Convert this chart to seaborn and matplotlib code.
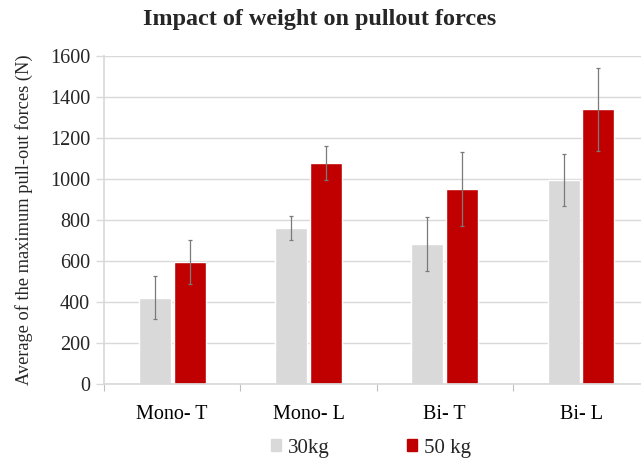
import matplotlib
matplotlib.use("Agg")
import matplotlib.pyplot as plt
import seaborn as sns
import pandas as pd
import numpy as np

categories = ["Mono- T", "Mono- L", "Bi- T", "Bi- L"]
groups = ["30kg", "50 kg"]
values_30 = [420, 761, 683, 995]
values_50 = [595, 1078, 953, 1341]
err_30 = [105, 57, 130, 127]
err_50 = [107, 83, 180, 202]
yticks = [0, 200, 400, 600, 800, 1000, 1200, 1400, 1600]

df = pd.DataFrame({
    "cat": categories * 2,
    "grp": [groups[0]] * 4 + [groups[1]] * 4,
    "val": values_30 + values_50,
    "err": err_30 + err_50,
})

sns.set_theme(style="white")
plt.rcParams["font.family"] = ["Liberation Serif", "DejaVu Serif"]

fig = plt.figure(figsize=(6.41, 4.59), dpi=100)
ax_w = 4 * 136.3
ax = fig.add_axes([104 / 641, 1 - 384 / 459, ax_w / 641, (384 - 56) / 459])

palette = {"30kg": "#D9D9D9", "50 kg": "#C00000"}
sns.barplot(data=df, x="cat", y="val", hue="grp", palette=palette, width=0.51, gap=0.08,
            errorbar=None, ax=ax, order=categories, hue_order=groups, saturation=1)

# error bars from bar geometry
bars = [p for p in ax.patches if p.get_height() > 0]
bars = sorted(bars, key=lambda p: p.get_x())
for p in bars:
    xc = p.get_x() + p.get_width() / 2
    h = p.get_height()
    row = df[np.isclose(df["val"], h)].iloc[0]
    ax.errorbar(xc, h, yerr=row["err"], color="#7A7A7A", lw=0.9, capsize=1.5, capthick=0.9, zorder=5)

ax.set_ylim(0, 1600)
ax.set_yticks(yticks)
ax.set_yticklabels([str(t) for t in yticks], fontsize=14.5)
ax.set_xticks(range(len(categories)))
ax.set_xticklabels(categories, fontsize=14.5)
ax.set_xticks([-0.5, 0.5, 1.5, 2.5, 3.5], minor=True)
ax.set_xlim(-0.5, 3.5)
ax.tick_params(axis="x", which="major", length=0, pad=15, colors="black")
ax.tick_params(axis="x", which="minor", length=5, color="#BFBFBF", width=0.8, direction="out", bottom=True)
ax.tick_params(axis="y", length=6, color="#D9D9D9", width=1, pad=4, left=True)
ax.grid(axis="y", color="#D9D9D9", lw=1)
ax.set_axisbelow(True)
for s in ["top", "right"]:
    ax.spines[s].set_visible(False)
ax.spines["left"].set_color("#D9D9D9")
ax.spines["bottom"].set_color("#D9D9D9")
ax.set_xlabel("")
ax.set_ylabel("Average of the maximum pull-out forces (N)", fontsize=13.2, labelpad=12)

ax.legend_.remove()
handles = [plt.Rectangle((0, 0), 1, 1, color=palette[g]) for g in groups]
fig.legend(handles, groups, loc="center", bbox_to_anchor=(371 / 641, 1 - 448 / 459), ncol=2,
           frameon=False, fontsize=15, handlelength=0.48, handleheight=0.48, handletextpad=0.3,
           columnspacing=3.75)

fig.text(320 / 641, 1 - 19 / 459, "Impact of weight on pullout forces", ha="center", va="center",
         fontsize=17.4, fontweight="bold")

fig.savefig("out.png", dpi=100)
